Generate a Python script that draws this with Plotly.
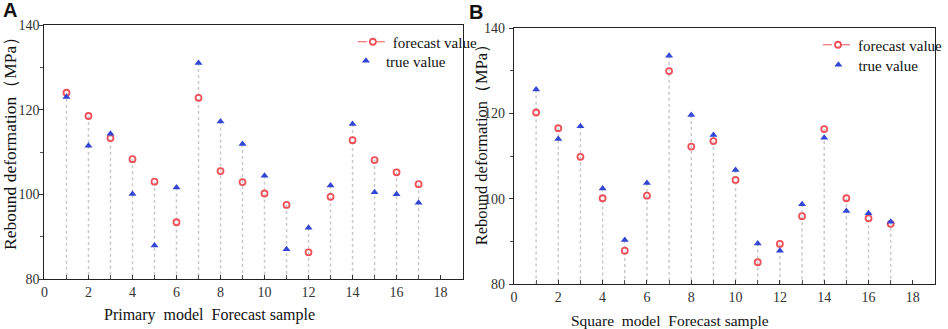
import plotly.graph_objects as go

samples = list(range(1, 18))
a_forecast = [124, 118.5, 113.3, 108.3, 103, 93.4, 122.8, 105.5, 102.9, 100.2, 97.5, 86.3, 99.4, 112.8, 108.1, 105.2, 102.4]
a_true = [123, 111.5, 114.3, 100.1, 87.9, 101.6, 131, 117.2, 111.9, 104.4, 87, 92.1, 102.1, 116.6, 100.5, 100, 98]
b_forecast = [120.2, 116.5, 109.8, 100.1, 87.8, 100.7, 129.9, 112.2, 113.5, 104.4, 85.1, 89.4, 95.9, 116.3, 100.1, 95.4, 94.1]
b_true = [125.6, 114, 117, 102.4, 90.3, 103.7, 133.5, 119.6, 114.9, 106.7, 89.5, 87.8, 98.7, 114.3, 97.1, 96.6, 94.6]
y_base = 80
x_ticks = [0, 2, 4, 6, 8, 10, 12, 14, 16, 18]
y_ticks = [80, 100, 120, 140]
y_title = "Rebound deformation\uff08MPa\uff09"
x_title_a = "Primary  model  Forecast sample"
x_title_b = "Square  model  Forecast sample"

W, H = 948, 329
RED = "#f0505a"
BLUE = "#3346d6"
STEM = "#c9c9c9"
SERIF = "Liberation Serif, Times New Roman, serif"

fig = go.Figure()


def stems(xs, ys):
    sx, sy = [], []
    for x, y in zip(xs, ys):
        sx += [x, x, None]
        sy += [y, y_base, None]
    return sx, sy


panels = [
    ("x", "y", "legend", "legend3", a_forecast, a_true),
    ("x2", "y2", "legend2", "legend4", b_forecast, b_true),
]
for xa, ya, lg_f, lg_t, fc, tv in panels:
    top = [max(f, t) for f, t in zip(fc, tv)]
    sx, sy = stems(samples, top)
    fig.add_trace(go.Scatter(x=sx, y=sy, mode="lines", xaxis=xa, yaxis=ya,
                             line=dict(color=STEM, width=1.5, dash="dot"),
                             showlegend=False, hoverinfo="skip"))
    fig.add_trace(go.Scatter(x=samples, y=fc, mode="markers", xaxis=xa, yaxis=ya,
                             marker=dict(symbol="circle-open", size=6, color=RED,
                                         line=dict(width=1.8, color=RED)),
                             showlegend=False))
    fig.add_trace(go.Scatter(x=samples, y=tv, mode="markers", xaxis=xa, yaxis=ya,
                             marker=dict(symbol="triangle-up", size=7, color=BLUE),
                             showlegend=False))
    fig.add_trace(go.Scatter(x=[None], y=[None], mode="lines+markers", xaxis=xa, yaxis=ya,
                             name="forecast value", legend=lg_f,
                             line=dict(color=RED, width=1, dash="dash"),
                             marker=dict(symbol="circle-open", size=6, color=RED,
                                         line=dict(width=1.8, color=RED))))
    fig.add_trace(go.Scatter(x=[None], y=[None], mode="markers", xaxis=xa, yaxis=ya,
                             name="true value", legend=lg_t,
                             marker=dict(symbol="triangle-up", size=7, color=BLUE)))

axis_common = dict(
    showline=True, linecolor="#222", linewidth=1.2, mirror=True,
    showgrid=False, zeroline=False, automargin=False,
    tickfont=dict(family=SERIF, size=14, color="#333"),
    ticks="outside", ticklen=4, tickcolor="#333",
)
xcommon = dict(axis_common, range=[0, 19], tickmode="array", tickvals=x_ticks,
               ticks="inside", ticklen=4,
               minor=dict(dtick=1, tick0=0, ticks="inside", ticklen=4, tickcolor="#555"))
ycommon = dict(axis_common, range=[80, 140], tickmode="array", tickvals=y_ticks,
               minor=dict(dtick=10, tick0=80, ticks="outside", ticklen=3, tickcolor="#555"))


def ann(text, x, y, size, angle=0, family=SERIF, bold=False):
    return dict(text=f"<b>{text}</b>" if bold else text, x=x / W, y=1 - y / H,
                xref="paper", yref="paper", xanchor="center", yanchor="middle",
                textangle=angle, showarrow=False,
                font=dict(family=family, size=size, color="#111"))


def leg(xleft, ycenter):
    return dict(x=xleft / W, y=1 - ycenter / H, xanchor="left", yanchor="middle",
                font=dict(family=SERIF, size=15, color="#111"),
                bgcolor="rgba(0,0,0,0)", borderwidth=0, itemwidth=30)


fig.update_layout(
    template="none",
    width=W, height=H,
    margin=dict(l=0, r=0, t=0, b=0),
    paper_bgcolor="white", plot_bgcolor="white",
    xaxis=dict(xcommon, domain=[45 / W, 468 / W], anchor="y"),
    yaxis=dict(ycommon, domain=[50 / H, 304 / H], anchor="x", ticklabelstandoff=-3),
    xaxis2=dict(xcommon, domain=[520 / W, 946 / W], anchor="y2"),
    yaxis2=dict(ycommon, domain=[45 / H, 301 / H], anchor="x2", ticklabelstandoff=1),
    legend=leg(357, 42),
    legend3=leg(350, 61),
    legend2=leg(828, 45),
    legend4=leg(828, 65),
    annotations=[
        ann("A", 10, 10, 20, family="Liberation Sans, Arial", bold=True),
        ann("B", 482, 12, 20, family="Liberation Sans, Arial", bold=True),
        ann(y_title, 10, 139, 17.5, angle=-90),
        ann(y_title, 488, 140, 16.5, angle=-90),
        ann(x_title_a, 212, 315, 16),
        ann(x_title_b, 678, 320, 15.5),
    ],
)

fig.write_html("out.html", config={"displayModeBar": False},
               post_script="document.body.style.margin='0';document.body.style.overflow='hidden';")
